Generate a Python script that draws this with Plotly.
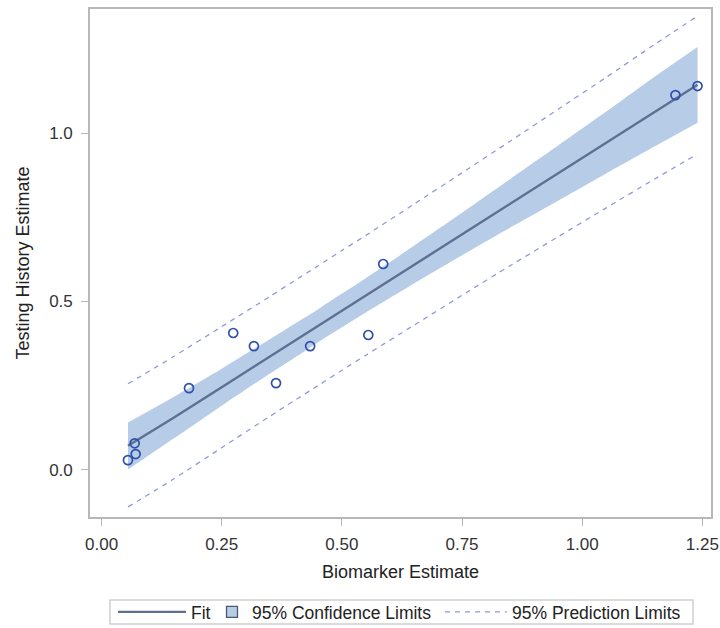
import plotly.graph_objects as go

# Observed points
biomarker = [0.055, 0.069, 0.071, 0.182, 0.274, 0.317, 0.363, 0.434, 0.555, 0.586, 1.194, 1.240]
testing = [0.028, 0.078, 0.046, 0.242, 0.406, 0.367, 0.257, 0.367, 0.400, 0.611, 1.113, 1.140]

# Fit, confidence band and prediction limits
grid_x = [0.055, 0.15, 0.25, 0.35, 0.40, 0.45, 0.50, 0.55, 0.65, 0.75, 0.85, 0.95, 1.05, 1.15, 1.240]
fit_y = [0.071, 0.154, 0.245, 0.336, 0.382, 0.427, 0.473, 0.518, 0.609, 0.700, 0.791, 0.881, 0.972, 1.063, 1.144]
ci_lower = [0.000, 0.092, 0.190, 0.285, 0.331, 0.378, 0.423, 0.467, 0.553, 0.637, 0.719, 0.799, 0.880, 0.960, 1.031]
ci_upper = [0.140, 0.216, 0.300, 0.387, 0.432, 0.476, 0.523, 0.569, 0.665, 0.763, 0.863, 0.963, 1.064, 1.167, 1.256]
pi_lower = [-0.111, -0.028, 0.065, 0.158, 0.204, 0.249, 0.295, 0.340, 0.429, 0.518, 0.606, 0.692, 0.778, 0.863, 0.938]
pi_upper = [0.255, 0.336, 0.425, 0.514, 0.560, 0.605, 0.651, 0.696, 0.789, 0.882, 0.976, 1.071, 1.166, 1.263, 1.348]

x_ticks = [0.0, 0.25, 0.5, 0.75, 1.0, 1.25]
x_tick_text = ["0.00", "0.25", "0.50", "0.75", "1.00", "1.25"]
y_ticks = [0.0, 0.5, 1.0]
y_tick_text = ["0.0", "0.5", "1.0"]

band_color = "#B7CCE6"
band_edge = "#4A5870"
fit_color = "#5C7092"
pi_color = "#9099DA"
marker_color = "#2F50AD"
frame_color = "#B8B8B8"
FONT = "Liberation Sans, Arial, sans-serif"

fig = go.Figure()

# confidence band: lower edge, then upper edge filled down to it
fig.add_trace(go.Scatter(
    x=grid_x, y=ci_lower, mode="lines",
    line=dict(width=0, color=band_color, shape="spline", smoothing=0.6),
    showlegend=False, hoverinfo="skip",
))
fig.add_trace(go.Scatter(
    x=grid_x, y=ci_upper, mode="lines", fill="tonexty", fillcolor=band_color,
    line=dict(width=0, color=band_color, shape="spline", smoothing=0.6),
    showlegend=False, hoverinfo="skip",
))
fig.add_trace(go.Scatter(
    x=grid_x, y=fit_y, mode="lines", line=dict(color=fit_color, width=2.4),
    name="Fit", legend="legend",
))
fig.add_trace(go.Scatter(
    x=grid_x, y=pi_upper, mode="lines",
    line=dict(color=pi_color, width=1.3, dash="5px,5px", shape="spline", smoothing=0.6),
    name="95% Prediction Limits", legend="legend3",
))
fig.add_trace(go.Scatter(
    x=grid_x, y=pi_lower, mode="lines",
    line=dict(color=pi_color, width=1.3, dash="5px,5px", shape="spline", smoothing=0.6),
    showlegend=False,
))
fig.add_trace(go.Scatter(
    x=biomarker, y=testing, mode="markers",
    marker=dict(symbol="circle-open", size=9, color=marker_color, line=dict(width=1.7)),
    showlegend=False,
))
# legend key for the confidence band (square swatch)
fig.add_trace(go.Scatter(
    x=[None], y=[None], mode="markers",
    marker=dict(symbol="square", size=11, color=band_color, line=dict(color=band_edge, width=1.3)),
    name="95% Confidence Limits", legend="legend2",
))

axis_common = dict(
    showgrid=False, zeroline=False, showline=True, linecolor=frame_color, linewidth=1.6,
    mirror=True, ticks="outside", ticklen=7, tickcolor=frame_color, tickwidth=1.2,
    tickfont=dict(family=FONT, size=17, color="#333333"),
)

PLOT_L, PLOT_R, PLOT_T, PLOT_B = 90, 711, 9, 517
W, H = 720, 628
pw = PLOT_R - PLOT_L
ph = PLOT_B - PLOT_T


def px_x(p):
    return (p - PLOT_L) / pw


def px_y(p):
    return (PLOT_B - p) / ph


leg_y = px_y(612)
leg_common = dict(
    orientation="h", yanchor="middle", y=leg_y, xanchor="left",
    bgcolor="rgba(0,0,0,0)", borderwidth=0,
    font=dict(family=FONT, size=17.5, color="#222222"),
)

fig.update_layout(
    width=W, height=H,
    paper_bgcolor="white", plot_bgcolor="white",
    margin=dict(l=PLOT_L, r=W - PLOT_R, t=PLOT_T, b=H - PLOT_B, autoexpand=False),
    font=dict(family=FONT, color="#222222"),
    xaxis=dict(
        range=[-0.024, 1.268], tickvals=x_ticks, ticktext=x_tick_text, ticklabelstandoff=4,
        title=dict(text="Biomarker Estimate", font=dict(size=18, color="#222222"), standoff=12),
        **axis_common,
    ),
    yaxis=dict(
        range=[-0.141, 1.369], tickvals=y_ticks, ticktext=y_tick_text, ticklabelstandoff=5,
        title=dict(text="Testing History Estimate", font=dict(size=18, color="#222222"), standoff=15),
        **axis_common,
    ),
    legend=dict(x=px_x(113), itemwidth=68, **leg_common),
    legend2=dict(x=px_x(212), itemwidth=30, **leg_common),
    legend3=dict(x=px_x(440), itemwidth=62, **leg_common),
    showlegend=True,
    shapes=[dict(
        type="rect", xref="paper", yref="paper",
        x0=px_x(110), x1=px_x(693), y0=px_y(624), y1=px_y(600),
        line=dict(color="#CFCFCF", width=1.5), fillcolor="rgba(0,0,0,0)", layer="above",
    )],
)

fig.write_html("out.html")
